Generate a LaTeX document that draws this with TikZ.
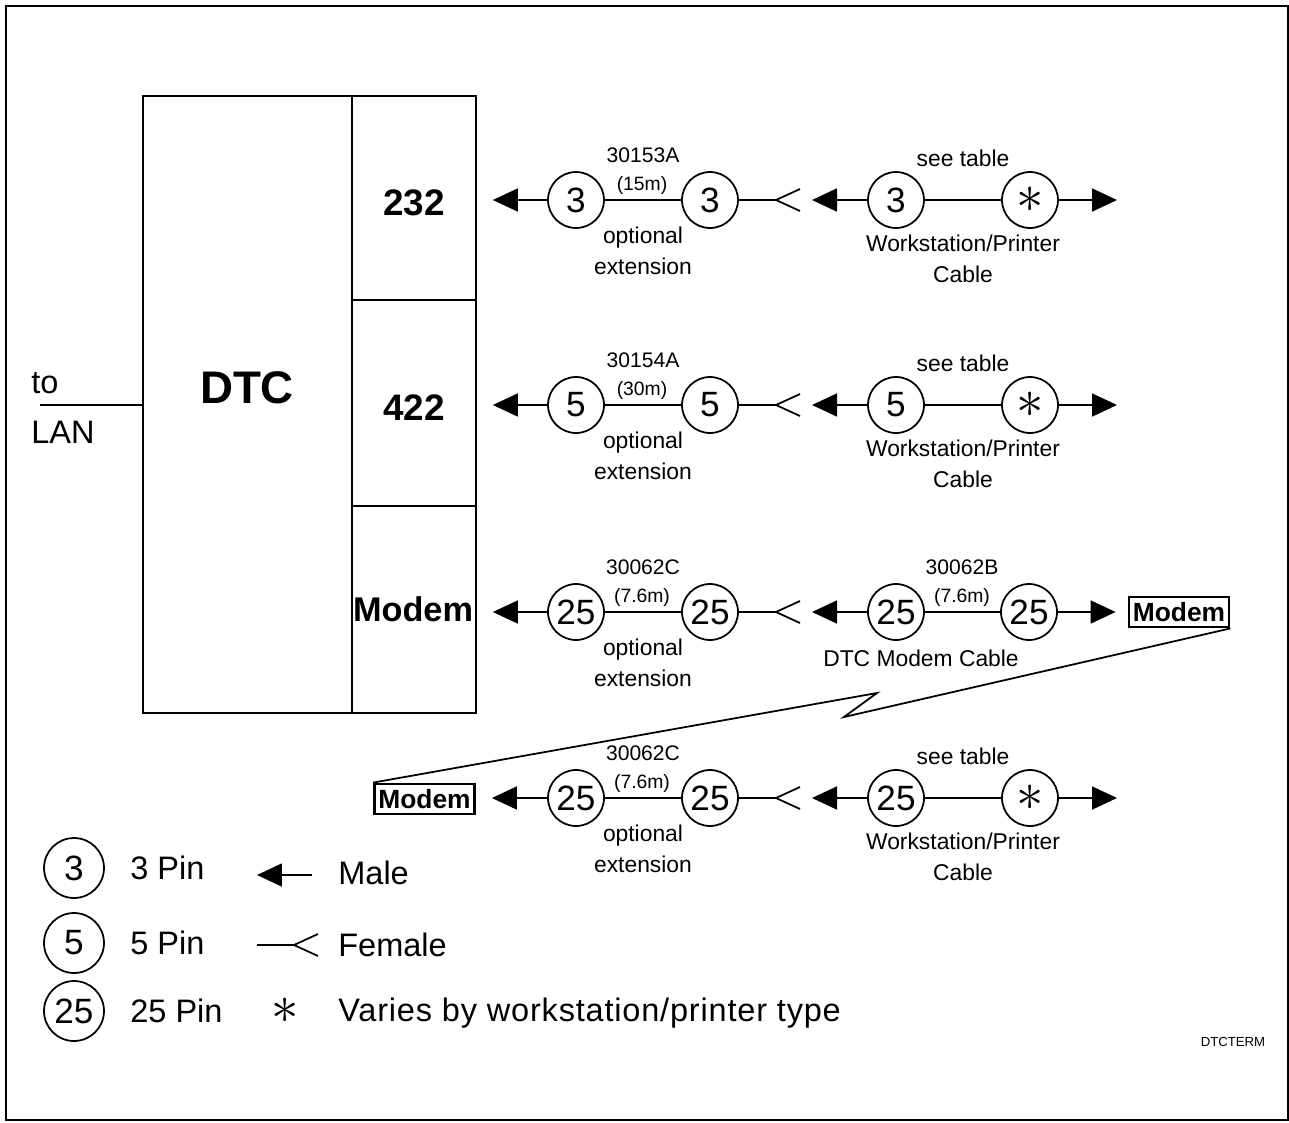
\documentclass[tikz,border=0pt]{standalone}
\usepackage{fontspec}
\setmainfont{Liberation Sans}
\usetikzlibrary{arrows.meta}

\newcommand{\varmark}{\scalebox{1.5}{$\ast$}}

\tikzset{
  pin/.style={circle, draw, line width=1pt, minimum size=1.12cm, inner sep=0pt, font=\fontsize{20}{20}\selectfont},
  keypin/.style={pin, minimum size=1.2cm},
  cablenum/.style={font=\fontsize{12}{12}\selectfont},
  cablelen/.style={font=\fontsize{11}{11}\selectfont},
  cablenote/.style={font=\fontsize{13}{17.5}\selectfont, align=center},
  keytext/.style={font=\fontsize{18.5}{18.5}\selectfont, anchor=west, inner sep=0pt},
  unit/.style={draw, line width=1pt, inner sep=0pt},
  port/.style={font=\bfseries\fontsize{21}{21}\selectfont},
  modembox/.style={draw, line width=1.6pt, minimum width=2cm, minimum height=0.6cm, inner sep=0pt, font=\bfseries\fontsize{15}{15}\selectfont},
  male/.style={line width=1pt, -{Triangle[length=0.5cm, width=0.46cm]}},
  wire/.style={line width=1pt},
}

\begin{document}
\begin{tikzpicture}[x=0.02cm, y=-0.02cm]
  \useasboundingbox (0,0) rectangle (1289,1123);
  % frame
  \draw[line width=1.3pt] (6,6) rectangle (1288,1120);

  % DTC and its ports
  \node[unit, minimum width=4.18cm, minimum height=12.34cm] (dtc) at (247.5,404.5) {};
  \node[port, font=\bfseries\fontsize{26}{26}\selectfont] (dtctext) at (247,388) {DTC};
  \node[unit, minimum width=2.48cm, minimum height=4.08cm] (p1) at (414,198) {};
  \node[unit, minimum width=2.48cm, minimum height=4.12cm] (p2) at (414,403) {};
  \node[unit, minimum width=2.48cm, minimum height=4.14cm] (p3) at (414,609.5) {};
  \node[port] (p1text) at (414,203) {232};
  \node[port] (p2text) at (414,408) {422};
  \node[port, font=\bfseries\fontsize{19.5}{19.5}\selectfont] (p3text) at (413,609) {Modem};

  % to LAN
  \node[keytext, align=left, font=\fontsize{18.5}{28.5}\selectfont] (lan) at (31,408) {to\\LAN};
  \coordinate (lanend) at (40,405);
  \draw[wire] (lanend) -- (lanend -| dtc.west);

  % modem link
  \node[modembox] (mdmr) at (1179,612) {Modem};
  \node[modembox] (mdml) at (424.5,799) {Modem};
  \coordinate (zigtop) at (877,693);
  \coordinate (zigbot) at (844,717);
  \draw[wire] (mdmr.south east) -- (zigbot) -- (zigtop) -- (mdml.north west);

  % extension cables
  \foreach \row/\pins/\cab/\len/\dest [count=\i] in {200/3/30153A/15m/p1, 405/5/30154A/30m/p2, 612/25/30062C/7.6m/p3, 798/25/30062C/7.6m/mdml} {
    \node[pin] (a\i) at (576,\row) {\pins};
    \node[pin] (b\i) at (710,\row) {\pins};
    \node[pin] (c\i) at (896,\row) {\pins};
    \coordinate (f\i) at (776,\row);
    \coordinate (g\i) at (812,\row);
    \draw[male, shorten >=0.32cm] (a\i.west) -- (a\i.west -| \dest.east);
    \draw[wire] (a\i) -- (b\i);
    \draw[wire] (b\i.east) -- (f\i) +(24,-11) -- (f\i) -- +(24,11);
    \draw[male] (c\i.west) -- (g\i);
    \node[cablenum] (n\i) at (643,\row-45) {\cab};
    \node[cablelen] (l\i) at (642,\row-15) {(\len)};
    \node[cablenote] (o\i) at (643,\row+51) {optional\\extension};
  }

  % workstation/printer cables
  \foreach \i/\row in {1/200, 2/405, 4/798} {
    \node[pin, font=\fontsize{22}{22}\selectfont] (d\i) at (1030,\row) {\varmark};
    \coordinate (e\i) at (1117,\row);
    \draw[wire] (c\i) -- (d\i);
    \draw[male] (d\i.east) -- (e\i);
    \node[cablenote] (t\i) at (963,\row-42) {see table};
    \node[cablenote] (w\i) at (963,\row+59) {Workstation/Printer\\Cable};
  }

  % DTC modem cable
  \node[pin] (d3) at (1029,612) {25};
  \draw[wire] (c3) -- (d3);
  \draw[male, shorten >=0.24cm] (d3.east) -- (mdmr.west);
  \node[cablenum] (n5) at (962,567) {30062B};
  \node[cablelen] (l5) at (962,597) {(7.6m)};
  \node[cablenote] (mc) at (921,658) {DTC Modem Cable};

  % legend
  \node[keypin] (k3) at (74,868) {3};
  \node[keypin] (k5) at (74,943) {5};
  \node[keypin] (k25) at (74,1011) {25};
  \node[keytext] (k3t) at (130,868) {3 Pin};
  \node[keytext] (k5t) at (130,943) {5 Pin};
  \node[keytext] (k25t) at (130,1011) {25 Pin};
  \coordinate (km1) at (312,875);
  \coordinate (km2) at (257,875);
  \draw[male] (km1) -- (km2);
  \node[keytext] (kmale) at (338,873) {Male};
  \coordinate (kf0) at (257,945);
  \coordinate (kf) at (294,945);
  \draw[wire] (kf0) -- (kf) +(24,-11) -- (kf) -- +(24,11);
  \node[keytext] (kfem) at (338,945) {Female};
  \node[font=\fontsize{20}{20}\selectfont] (kstar) at (285,1011) {\varmark};
  \node[keytext, font=\addfontfeature{LetterSpace=2.5}\fontsize{18.5}{18.5}\selectfont] (kvar) at (338,1013) {Varies by workstation/printer type};

  \node[font=\fontsize{7.5}{7.5}\selectfont] (tag) at (1233,1042) {DTCTERM};
\end{tikzpicture}
\end{document}
